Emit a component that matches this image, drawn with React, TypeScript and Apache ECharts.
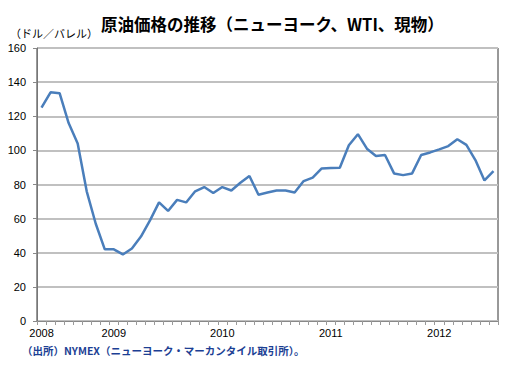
import React, { useEffect, useRef } from "react";
import * as echarts from "echarts";

const months: string[] = [
  "2008-05", "2008-06", "2008-07", "2008-08", "2008-09", "2008-10", "2008-11", "2008-12",
  "2009-01", "2009-02", "2009-03", "2009-04", "2009-05", "2009-06", "2009-07", "2009-08", "2009-09", "2009-10", "2009-11", "2009-12",
  "2010-01", "2010-02", "2010-03", "2010-04", "2010-05", "2010-06", "2010-07", "2010-08", "2010-09", "2010-10", "2010-11", "2010-12",
  "2011-01", "2011-02", "2011-03", "2011-04", "2011-05", "2011-06", "2011-07", "2011-08", "2011-09", "2011-10", "2011-11", "2011-12",
  "2012-01", "2012-02", "2012-03", "2012-04", "2012-05", "2012-06", "2012-07",
];

const wtiPrice: number[] = [
  125, 134, 133.5, 116, 104, 76, 57, 42,
  42, 39, 42.5, 49.5, 59, 69.5, 64.5, 71, 69.5, 76, 78.5, 75,
  78.5, 76.5, 81, 85, 74, 75.3, 76.5, 76.5, 75.3, 82, 84, 89.4,
  89.6, 89.8, 103, 109.5, 101, 96.7, 97.3, 86.5, 85.5, 86.5, 97.3, 98.8,
  100.6, 102.5, 106.5, 103.2, 94.3, 82.4, 87.8,
];

const titleText = "原油価格の推移（ニューヨーク、WTI、現物）";
const unitText = "（ドル／バレル）";
const sourceText = "（出所）NYMEX（ニューヨーク・マーカンタイル取引所）。";

const NUM_FONT = "'Liberation Sans', 'Noto Sans CJK JP', sans-serif";
const JP_FONT = "'Noto Sans CJK JP', sans-serif";

export default function App() {
  const ref = useRef<HTMLDivElement>(null);
  useEffect(() => {
    if (!ref.current) return;
    const chart = echarts.init(ref.current, undefined, { renderer: "svg" });
    chart.setOption({
      animation: false,
      backgroundColor: "#ffffff",
      title: {
        text: titleText,
        left: 96,
        top: 11,
        textStyle: { fontFamily: JP_FONT, fontSize: 16.5, fontWeight: "bold", color: "#000" },
      },
      grid: {
        left: 37,
        right: 21,
        top: 48,
        bottom: 51,
        show: true,
        borderColor: "#333",
        borderWidth: 1,
        backgroundColor: "transparent",
      },
      xAxis: {
        type: "category",
        data: months,
        boundaryGap: true,
        axisLine: { show: true, lineStyle: { color: "#888", width: 1 } },
        axisTick: { show: true, interval: 0, length: 4, lineStyle: { color: "#999" } },
        axisLabel: {
          interval: 0,
          margin: 6,
          fontSize: 11,
          fontFamily: NUM_FONT,
          color: "#000",
          formatter: (v: string, i: number) => (i === 0 || v.endsWith("-01") ? v.slice(0, 4) : ""),
        },
        splitLine: { show: false },
      },
      yAxis: {
        type: "value",
        min: 0,
        max: 160,
        interval: 20,
        axisLine: { show: true, lineStyle: { color: "#777", width: 1 } },
        axisTick: { show: true, length: 4, lineStyle: { color: "#888" } },
        axisLabel: { margin: 11, fontSize: 11, fontFamily: NUM_FONT, color: "#000" },
        splitLine: { show: true, lineStyle: { color: "#c0c0c0", width: 2 } },
      },
      series: [
        {
          type: "line",
          data: wtiPrice,
          symbol: "none",
          lineStyle: { color: "#4a7ebb", width: 2.5 },
        },
      ],
      graphic: [
        {
          type: "text",
          left: 10,
          top: 27,
          style: { text: unitText, fontFamily: JP_FONT, fontSize: 11, fill: "#000" },
        },
        {
          type: "text",
          left: 22,
          top: 345,
          style: {
            text: sourceText,
            fontFamily: JP_FONT,
            fontSize: 10.5,
            fontWeight: "bold",
            fill: "#1c3f94",
          },
        },
      ],
    });
    return () => chart.dispose();
  }, []);
  return (
    <div
      style={{
        position: "fixed",
        left: 0,
        top: 0,
        width: 519,
        height: 372,
        boxSizing: "border-box",
        border: "2px solid #b4b4b4",
        background: "#fff",
      }}
    >
      <div ref={ref} style={{ position: "absolute", left: -2, top: -2, width: 519, height: 372 }} />
    </div>
  );
}
